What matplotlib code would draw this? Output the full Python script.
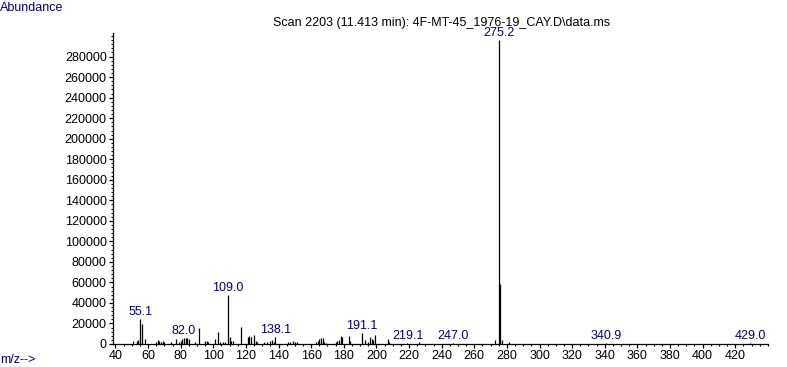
import matplotlib
matplotlib.use('Agg')
import matplotlib.pyplot as plt
from matplotlib.ticker import MultipleLocator, StrMethodFormatter

# ==========================================
# 1. SPECTRUM DATA
# ==========================================
mz = [51, 53, 54, 55, 56, 58, 65, 66, 67, 68, 69, 70, 74, 77, 79, 80, 81, 82,
      83, 84, 85, 89, 91, 95, 96, 97, 101, 103, 104, 106, 107, 109, 110, 111,
      112, 117, 121, 122, 123, 125, 126, 127, 131, 133, 135, 136, 137, 138,
      146, 147, 149, 150, 151, 163, 164, 165, 166, 167, 168, 169, 175, 176,
      177, 178, 179, 183, 184, 191, 193, 195, 196, 197, 198, 199, 207, 208,
      219, 226, 247, 273, 275, 276, 277, 281, 341, 429]
abundance = [2500, 3000, 3500, 24000, 19500, 5000, 2000, 4000, 3000, 2000,
             2500, 1500, 2000, 5000, 2000, 2500, 4500, 6000, 5500, 5500, 4500,
             2000, 15500, 2500, 3000, 2000, 5000, 11500, 2000, 2000, 1500,
             48000, 6500, 3000, 3000, 16500, 6500, 7500, 7000, 8500, 2500,
             1500, 1500, 1500, 2500, 4000, 2000, 7000, 1500, 2000, 2500, 1500,
             2000, 2000, 3000, 4500, 5500, 6000, 1500, 1000, 1500, 2500, 3500,
             7500, 6500, 8000, 2500, 11000, 4000, 2000, 6500, 5000, 4000, 9000,
             4500, 1500, 800, 1500, 800, 4000, 296000, 58000, 4000, 1500, 800,
             800]

# labelled peaks
label_mz = [55.1, 82.0, 109.0, 138.1, 191.1, 219.1, 247.0, 275.2, 340.9, 429.0]

y_ticks = list(range(0, 280001, 20000))
x_ticks = list(range(40, 421, 20))

title = 'Scan 2203 (11.413 min): 4F-MT-45_1976-19_CAY.D\\data.ms'
navy = '#000080'

# ==========================================
# 2. FIGURE
# ==========================================
plt.rcParams['font.family'] = ['Liberation Sans', 'DejaVu Sans']
plt.rcParams['font.size'] = 9

fig = plt.figure(figsize=(7.87, 3.67), dpi=100)
ax = fig.add_axes([0.1436, 0.0627, 0.8323, 0.8474])

ax.vlines(mz, 0, abundance, color='black', lw=0.9)

peak_lookup = dict(zip(mz, abundance))
for lm in label_mz:
    h = peak_lookup[int(round(lm))]
    ax.annotate(f'{lm:.1f}', (lm, h), xytext=(0, 1), textcoords='offset pixels',
                ha='center', va='bottom', color=navy, fontsize=9)

ax.set_xlim(38.5, 440.1)
ax.set_ylim(0, 303000)

for side in ['top', 'right']:
    ax.spines[side].set_visible(False)
ax.spines['left'].set_linewidth(0.9)
ax.spines['bottom'].set_linewidth(0.9)

ax.xaxis.set_minor_locator(MultipleLocator(5))
ax.yaxis.set_minor_locator(MultipleLocator(4000))
ax.set_xticks(x_ticks)
ax.set_yticks(y_ticks)
ax.yaxis.set_major_formatter(StrMethodFormatter('{x:.0f}'))
ax.xaxis.set_major_formatter(StrMethodFormatter('{x:.0f}'))

ax.tick_params(axis='both', which='major', length=3, width=0.9, pad=1.5,
               labelsize=9)
ax.tick_params(axis='both', which='minor', length=1.5, width=0.8)

fig.text(0.0, 0.978, 'Abundance', color=navy, ha='left', va='center', fontsize=9)
fig.text(0.0, 0.019, 'm/z-->', color=navy, ha='left', va='center', fontsize=9)
fig.text(0.561, 0.937, title, color='black', ha='center', va='center', fontsize=9)

fig.savefig('out.png', dpi=100)
